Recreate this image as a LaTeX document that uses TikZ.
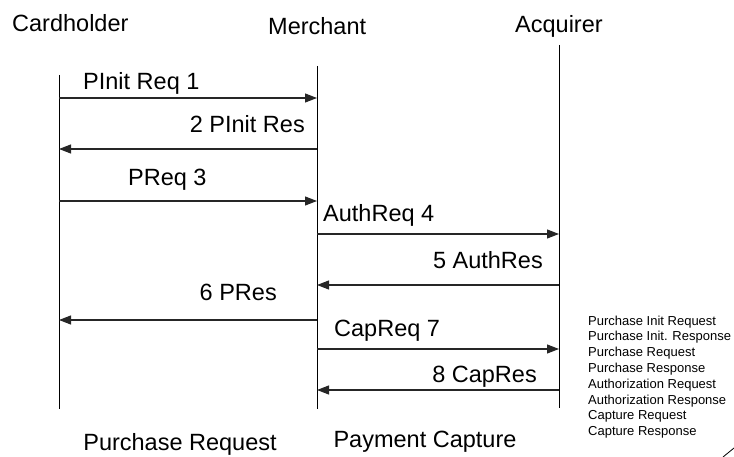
\documentclass[tikz,border=0pt]{standalone}
\usepackage{fontspec}
\setmainfont{Liberation Sans}
\usetikzlibrary{arrows.meta}
\begin{document}
\begin{tikzpicture}[x=1pt,y=-1pt,
  big/.style={inner sep=0pt,font=\fontsize{23.5}{28}\selectfont},
  small/.style={inner sep=0pt,anchor=base west,font=\fontsize{13}{16}\selectfont},
  lifeline/.style={line width=1pt,black},
  msg/.style={line width=1.1pt,black!85,-{Triangle[length=12pt,width=9pt]}}]
\useasboundingbox (0,0) rectangle (734,457);

% party names
\node[big,anchor=base west] (cardholder) at (12,32) {Cardholder};
\node[big,anchor=base west] (merchant) at (268,35) {Merchant};
\node[big,anchor=base west] (acquirer) at (515,33) {Acquirer};

% lifelines
\coordinate (cTop) at (59,75);  \coordinate (cBot) at (59,409);
\coordinate (mTop) at (317,66); \coordinate (mBot) at (317,409);
\coordinate (aTop) at (559,45); \coordinate (aBot) at (559,408);
\draw[lifeline] (cTop) -- (cBot);
\draw[lifeline] (mTop) -- (mBot);
\draw[lifeline] (aTop) -- (aBot);

% message end points on the lifelines
\foreach \n/\y in {1/98,2/149,3/201,6/320}{
  \coordinate (c\n) at (59,\y);
  \coordinate (m\n) at (317,\y);
}
\foreach \n/\y in {4/234,5/285,7/349,8/390}{
  \coordinate (m\n) at (317,\y);
  \coordinate (a\n) at (559,\y);
}

% messages
\draw[msg] (c1) -- (m1);
\draw[msg] (m2) -- (c2);
\draw[msg] (c3) -- (m3);
\draw[msg] (m4) -- (a4);
\draw[msg] (a5) -- (m5);
\draw[msg] (m6) -- (c6);
\draw[msg] (m7) -- (a7);
\draw[msg] (a8) -- (m8);

% message labels
\node[big,anchor=base west] (l1) at (83,90) {PInit Req 1};
\node[big,anchor=base east] (l2) at (305,133) {2 PInit Res};
\node[big,anchor=base west] (l3) at (128,186) {PReq 3};
\node[big,anchor=base west] (l4) at (323,222) {AuthReq 4};
\node[big,anchor=base east] (l5) at (543,269) {5 AuthRes};
\node[big,anchor=base east] (l6) at (277,301) {6 PRes};
\node[big,anchor=base west] (l7) at (334,336) {CapReq 7};
\node[big,anchor=base east] (l8) at (537,382) {8 CapRes};

% phase captions
\node[big,anchor=base] (phase1) at (180,450) {Purchase Request};
\node[big,anchor=base] (phase2) at (425,447) {Payment Capture};

% legend of message names
\foreach \t [count=\i] in {Purchase Init Request,Purchase Init. Response,Purchase Request,Purchase Response,Authorization Request,Authorization Response,Capture Request,Capture Response}{
  \node[small] (legend\i) at (588,{325+15.8*(\i-1)}) {\t};
}

% corner mark
\coordinate (markA) at (723,457);
\coordinate (markB) at (734,448);
\draw[line width=0.8pt] (markA) -- (markB);
\end{tikzpicture}
\end{document}
